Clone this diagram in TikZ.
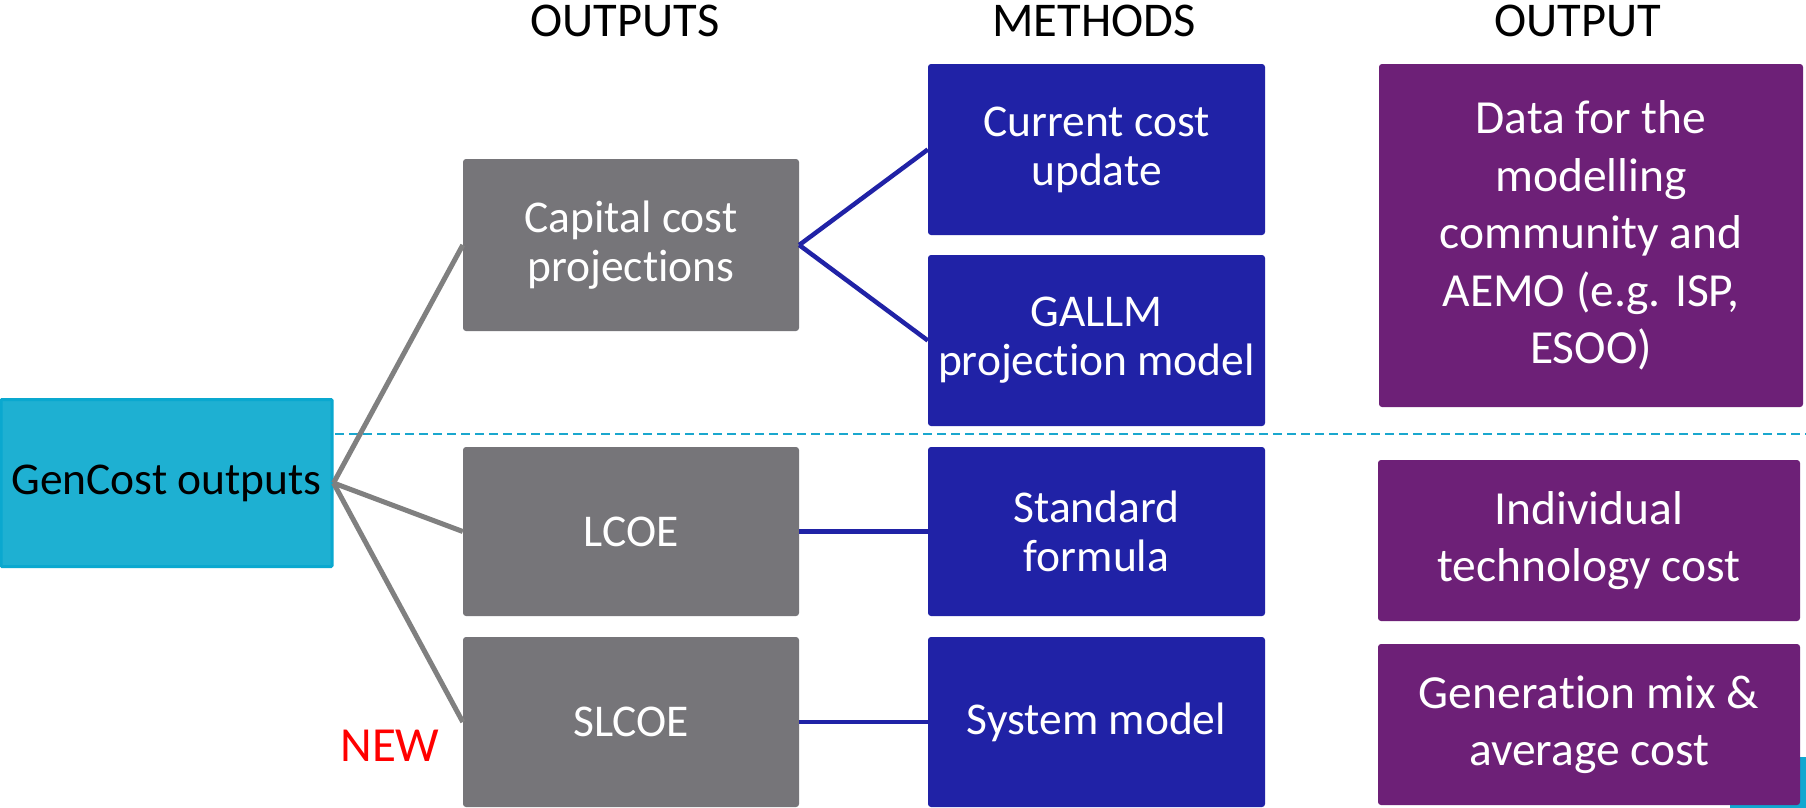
\documentclass[tikz,border=0pt]{standalone}
\usepackage{fontspec}
\setmainfont{Carlito}[Ligatures=NoCommon]
\definecolor{gencyan}{HTML}{1EB0D2}
\definecolor{genborder}{HTML}{0AA8CF}
\definecolor{grayfill}{HTML}{767579}
\definecolor{bluefill}{HTML}{2022A6}
\definecolor{purplefill}{HTML}{6D2077}
\definecolor{congray}{HTML}{808080}
\definecolor{dashteal}{HTML}{1AA7CE}
\definecolor{teallogo}{HTML}{10A8D0}
\begin{document}
\begin{tikzpicture}[x=1pt,y=-1pt,
  boxbase/.style={rectangle, rounded corners=3pt, inner sep=0pt, align=center, text=white,
    font=\fontsize{45.5}{49}\selectfont},
  genbox/.style={boxbase, fill=gencyan, draw=genborder, line width=3pt, text=black, rounded corners=1pt,
    font=\fontsize{45.5}{50}\selectfont},
  graybox/.style={boxbase, fill=grayfill, minimum width=336, minimum height=170},
  bluebox/.style={boxbase, fill=bluefill, minimum width=337, minimum height=170},
  purplebox/.style={boxbase, fill=purplefill, minimum width=422, font=\fontsize{47.5}{57.5}\selectfont},
  header/.style={font=\fontsize{48.5}{52}\selectfont, text=black, inner sep=0pt},
  grayline/.style={draw=congray, line width=5pt},
  blueline/.style={draw=bluefill, line width=4.5pt},
]
\useasboundingbox (0,0) rectangle (1806,807);
\fill[white] (0,0) rectangle (1806,807);

% small teal shape partly hidden
\fill[teallogo, rounded corners=3pt] (1730,757) rectangle (1820,830);

% headers
\node[header] (h1) at (625,21) {OUTPUTS};
\node[header] (h2) at (1094,21) {METHODS};
\node[header] (h3) at (1578,21) {OUTPUT};

% dashed separator
\coordinate (dl) at (335,434);
\coordinate (dr) at (1806,434);
\draw[dashteal, line width=2pt, dash pattern=on 9pt off 5pt] (dl) -- (dr);

% nodes
\node[genbox, minimum width=331, minimum height=167] (gen) at (166.5,483) {GenCost outputs};

\node[graybox, minimum height=172] (g1) at (631,245) {Capital cost\\projections};
\node[graybox, minimum height=169] (g2) at (631,531.5) {LCOE};
\node[graybox] (g3) at (631,722) {SLCOE};

\node[bluebox, minimum height=171] (b1) at (1096.5,149.5) {Current cost\\update};
\node[bluebox, minimum height=171] (b2) at (1096.5,340.5) {GALLM\\projection model};
\node[bluebox, minimum height=169] (b3) at (1096.5,531.5) {Standard\\formula};
\node[bluebox] (b4) at (1096.5,722) {System model};

\node[purplebox, minimum width=424, minimum height=343] (p1) at (1591,235.5) {Data for the\\modelling\\community and\\AEMO (e.g. ISP,\\ESOO)};
\node[purplebox, minimum height=161] (p2) at (1589,540.5) {Individual\\technology cost};
\node[purplebox, minimum height=161] (p3) at (1589,724.5) {Generation mix \&\\average cost};

\node[font=\fontsize{49}{52}\selectfont, text=red, inner sep=0pt] (new) at (390,746) {NEW};

% connectors
\draw[grayline] (gen.east) -- (g1.west);
\draw[grayline] (gen.east) -- (g2.west);
\draw[grayline] (gen.east) -- (g3.west);

\draw[blueline] (g1.east) -- (b1.west);
\draw[blueline] (g1.east) -- (b2.west);
\draw[blueline] (g2.east) -- (b3.west);
\draw[blueline] (g3.east) -- (b4.west);
\end{tikzpicture}
\end{document}
